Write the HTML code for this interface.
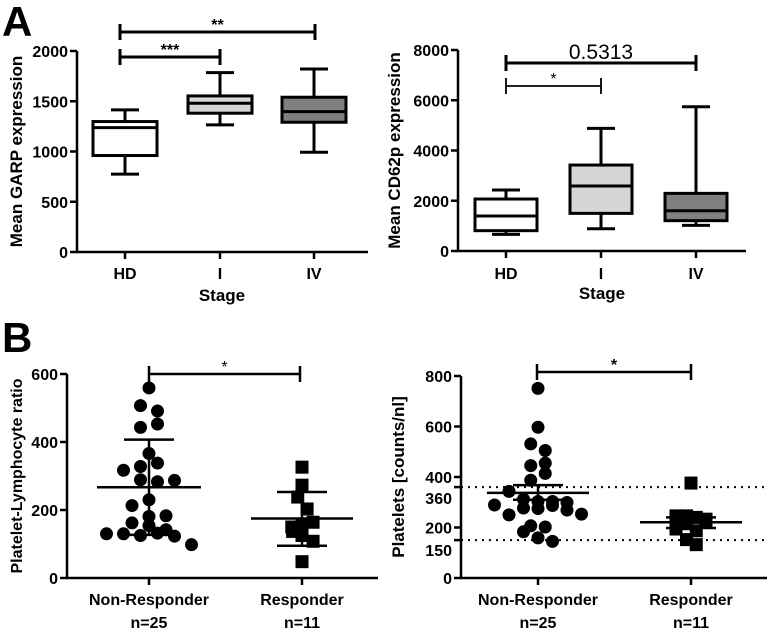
<!DOCTYPE html>
<html><head><meta charset="utf-8"><style>
html,body{margin:0;padding:0;background:#fff;}
svg{display:block;font-family:"Liberation Sans",Arial,sans-serif;}
</style></head><body>
<svg id="fig" width="778" height="633" viewBox="0 0 778 633" xmlns="http://www.w3.org/2000/svg"></svg>
<script>
// ---- Panel A left: GARP ----
const garpCategories = ["HD","I","IV"];
const garpMin = [775,1265,993];
const garpQ1 = [960,1381,1291];
const garpMed = [1238,1480,1397];
const garpQ3 = [1298,1553,1540];
const garpMax = [1414,1785,1821];
const garpTicks = [0,500,1000,1500,2000];
// ---- Panel A right: CD62p ----
const cdCategories = ["HD","I","IV"];
const cdMin = [663,888,1021];
const cdQ1 = [809,1498,1207];
const cdMed = [1392,2586,1604];
const cdQ3 = [2069,3421,2294];
const cdMax = [2427,4880,5742];
const cdTicks = [0,2000,4000,6000,8000];
const boxFills = ["#ffffff","#d6d6d6","#7f7f7f"];
// ---- Panel B left: PLR ----
const plrCategories = ["Non-Responder","Responder"];
const plrNon = [559,507,491,443,453,366,328,338,317,289,283,287,213,230,181,183,162,154,130,130,125,132,142,123,98];
const plrNonOffset = [0,-0.5,0.5,-0.5,0.5,0,-0.5,0.5,-1.5,-0.5,0.5,1.5,-1,0,0,1,-1,0,-2.5,-1.5,-0.5,0.5,1,1.5,2.5];
const plrResp = [326,273,238,203,150,137,157,164,125,108,48];
const plrRespOffset = [0,0,-0.25,0.3,-0.6,-0.55,0,0.65,0,0.65,0];
const plrNonStats = [267,407,127];   // center, upper, lower
const plrRespStats = [175,253,95];
const plrTicks = [0,200,400,600];
// ---- Panel B right: Platelets ----
const pltNon = [751,597,531,505,445,455,414,387,343,289,312,303,303,299,277,275,287,269,250,253,207,202,183,159,145];
const pltNonOffset = [0,0,-0.5,0.5,-0.5,0.5,0.5,-0.5,-2,-3,-1,0,1,2,-1,0,1,2,-2,3,-0.5,0.5,-1,0,1];
const pltResp = [376,246,246,240,233,194,215,187,220,152,132];
const pltRespOffset = [0,-1,-0.3,0.35,1,-1,-0.3,0.35,1,-0.3,0.35];
const pltNonStats = [337,368,310];
const pltRespStats = [221,240,198];
const pltTicks = [0,150,200,360,400,600,800];
const pltRefLines = [360,150];

const svg = document.getElementById('fig');
const NS = "http://www.w3.org/2000/svg";
function mk(tag, attrs, parent){
  const e = document.createElementNS(NS, tag);
  for (const k in attrs) e.setAttribute(k, attrs[k]);
  (parent||svg).appendChild(e);
  return e;
}
function txt(s, attrs, parent){ const e = mk('text', attrs, parent); e.textContent = s; return e; }
function linearY(d0,d1,p0,p1){ return v => p0 + (v-d0)*(p1-p0)/(d1-d0); }

function axes(g, ax){
  const a = mk('line',{x1:ax.x0,y1:ax.yBot,x2:ax.x0,y2:ax.yTop,stroke:'#000','stroke-width':2.5},g);
   
  const b = mk('line',{x1:ax.x0-1,y1:ax.yBot,x2:ax.x1,y2:ax.yBot,stroke:'#000','stroke-width':2.5},g);
   
  ax.ticks.forEach(t=>{
    const y = ax.ys(t);
    mk('line',{x1:ax.x0-7,y1:y,x2:ax.x0,y2:y,stroke:'#000','stroke-width':2.5},g);
    const off = (ax.labelShift && ax.labelShift[t]) || 0;
    const l = txt(String(t),{x:ax.x0-9,y:y+6+off,'text-anchor':'end','font-size':16,'font-weight':'bold'},g);
     
  });
  const tt = txt(ax.title,{x:0,y:0,'text-anchor':'middle','font-size':ax.titleSize||17,'font-weight':'bold',transform:`translate(${ax.titleX},${(ax.yTop+ax.yBot)/2}) rotate(-90)`},g);
   
}
function bracket(g, xa, xb, y, label, sw, fs, weight){
  const p = mk('path',{d:`M${xa},${y-8}V${y+8}M${xa},${y}H${xb}M${xb},${y-8}V${y+8}`,stroke:'#000','stroke-width':sw,fill:'none'},g);
   
  const t = txt(label,{x:(xa+xb)/2,y:y-(fs>18?4:2),'text-anchor':'middle','font-size':fs,'font-weight':weight||'normal'},g);
   
}
function boxplot(g, cats, mn,q1,md,q3,mx, xs, ys, hw){
  cats.forEach((c,i)=>{
    const x = xs[i];
    const bg = mk('g',{},g);
     
    mk('path',{d:`M${x},${ys(mx[i])}V${ys(q3[i])}M${x},${ys(q1[i])}V${ys(mn[i])}M${x-14},${ys(mx[i])}H${x+14}M${x-14},${ys(mn[i])}H${x+14}`,stroke:'#000','stroke-width':3,fill:'none'},bg);
    mk('rect',{x:x-hw,y:ys(q3[i]),width:2*hw,height:ys(q1[i])-ys(q3[i]),fill:boxFills[i],stroke:'#000','stroke-width':3},bg);
    mk('line',{x1:x-hw,y1:ys(md[i]),x2:x+hw,y2:ys(md[i]),stroke:'#000','stroke-width':3},bg);
  });
}
function catLabels(g, cats, xs, y){
  cats.forEach((c,i)=>{
    const t = txt(c,{x:xs[i],y:y,'text-anchor':'middle','font-size':16,'font-weight':'bold'},g);
     
  });
}
function dots(g, vals, offs, cx, ys, shape, step){
  vals.forEach((v,i)=>{
    const x = cx + offs[i]*step, y = ys(v);
    let e;
    if (shape==='circle') e = mk('circle',{cx:x,cy:y,r:6.5,fill:'#000'},g);
    else e = mk('rect',{x:x-6.5,y:y-6.5,width:13,height:13,fill:'#000'},g);
     
  });
}
function statLines(g, cx, st, ys, wMean, wErr){
  const p = mk('path',{d:`M${cx-wMean},${ys(st[0])}H${cx+wMean}M${cx-wErr},${ys(st[1])}H${cx+wErr}M${cx-wErr},${ys(st[2])}H${cx+wErr}M${cx},${ys(st[1])}V${ys(st[2])}`,stroke:'#000','stroke-width':2.5,fill:'none'},g);
   
}

let L = txt('A',{x:2,y:36,'font-size':42,'font-weight':'bold'});  
L = txt('B',{x:2,y:352,'font-size':42,'font-weight':'bold'});  

// A left
{
  const g = mk('g',{});  
  const ys = linearY(0,2000,252,51);
  axes(g,{x0:77,x1:368,yBot:252,yTop:51,ticks:garpTicks,ys:ys,title:'Mean GARP expression',titleX:22});
  const xs=[125,220,314];
  xs.forEach(x=>mk('line',{x1:x,y1:252,x2:x,y2:259,stroke:'#000','stroke-width':2.5},g));
  boxplot(g,garpCategories,garpMin,garpQ1,garpMed,garpQ3,garpMax,xs,ys,32);
  catLabels(g,garpCategories,xs,279);
  const t = txt('Stage',{x:222,y:301,'text-anchor':'middle','font-size':17,'font-weight':'bold'},g);  
  bracket(g,120,315,32,'**',3,16,'bold');
  bracket(g,120,220,57,'***',3,16,'bold');
}
// A right
{
  const g = mk('g',{});  
  const ys = linearY(0,8000,251,50);
  axes(g,{x0:458,x1:746,yBot:251,yTop:50,ticks:cdTicks,ys:ys,title:'Mean CD62p expression',titleX:400});
  const xs=[506,601,696];
  xs.forEach(x=>mk('line',{x1:x,y1:251,x2:x,y2:258,stroke:'#000','stroke-width':2.5},g));
  boxplot(g,cdCategories,cdMin,cdQ1,cdMed,cdQ3,cdMax,xs,ys,31);
  catLabels(g,cdCategories,xs,279);
  const t = txt('Stage',{x:602,y:299,'text-anchor':'middle','font-size':17,'font-weight':'bold'},g);  
  bracket(g,506,696,63,'0.5313',3,21,'normal');
  bracket(g,506,601,86,'*',1.8,16,'normal');
}
// B left
{
  const g = mk('g',{});  
  const ys = linearY(0,600,578,374);
  axes(g,{x0:67,x1:378,yBot:578,yTop:374,ticks:plrTicks,ys:ys,title:'Platelet-Lymphocyte ratio',titleX:22,titleSize:16});
  const xs=[149,302];
  xs.forEach(x=>mk('line',{x1:x,y1:578,x2:x,y2:585,stroke:'#000','stroke-width':2.5},g));
  dots(g,plrNon,plrNonOffset,149,ys,'circle',17);
  dots(g,plrResp,plrRespOffset,302,ys,'square',17);
  statLines(g,149,plrNonStats,ys,52,25);
  statLines(g,302,plrRespStats,ys,51,25);
  catLabels(g,plrCategories,xs,605);
  ['n=25','n=11'].forEach((s,i)=>{const t=txt(s,{x:xs[i],y:628,'text-anchor':'middle','font-size':16,'font-weight':'bold'},g);  });
  bracket(g,149,300,374,'*',2.5,16,'normal');
}
// B right
{
  const g = mk('g',{});  
  const ys = linearY(0,800,578,376);
  axes(g,{x0:461,x1:767,yBot:578,yTop:376,ticks:pltTicks,ys:ys,title:'Platelets [counts/nl]',titleX:404,labelShift:{360:11,150:10}});
  pltRefLines.forEach(v=>{const l=mk('line',{x1:461,y1:ys(v),x2:767,y2:ys(v),stroke:'#000','stroke-width':2,'stroke-dasharray':'2,5'},g);  });
  const xs=[538,691];
  xs.forEach(x=>mk('line',{x1:x,y1:578,x2:x,y2:585,stroke:'#000','stroke-width':2.5},g));
  dots(g,pltNon,pltNonOffset,538,ys,'circle',14.5);
  dots(g,pltResp,pltRespOffset,691,ys,'square',15);
  statLines(g,538,pltNonStats,ys,51,25);
  statLines(g,691,pltRespStats,ys,51,25);
  catLabels(g,plrCategories,xs,605);
  ['n=25','n=11'].forEach((s,i)=>{const t=txt(s,{x:xs[i],y:628,'text-anchor':'middle','font-size':16,'font-weight':'bold'},g);  });
  bracket(g,537,691,372,'*',2.5,16,'bold');
}
</script>
</body></html>
